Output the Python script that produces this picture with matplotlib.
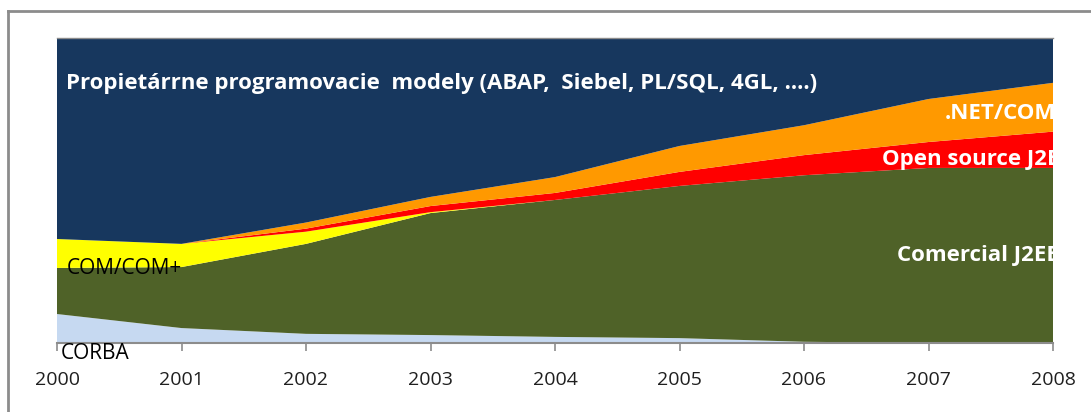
import matplotlib.pyplot as plt
from matplotlib.lines import Line2D

# data (share in %)
years = [2000, 2001, 2002, 2003, 2004, 2005, 2006, 2007, 2008]
corba = [9.5, 4.9, 3.0, 2.6, 2.0, 1.6, 0.4, 0.0, 0.0]
comercial_j2ee = [15.1, 20.0, 29.5, 40.0, 44.9, 49.9, 54.6, 57.4, 57.4]
com_complus = [9.5, 7.6, 4.0, 0.3, 0.0, 0.0, 0.0, 0.0, 0.0]
open_source_j2ee = [0.0, 0.0, 1.0, 2.0, 2.3, 4.6, 6.6, 8.5, 11.9]
dotnet = [0.0, 0.0, 2.0, 3.0, 5.2, 8.5, 9.8, 14.1, 16.0]
proprietary = [100 - sum(v) for v in zip(corba, comercial_j2ee, com_complus, open_source_j2ee, dotnet)]

series = [corba, comercial_j2ee, com_complus, open_source_j2ee, dotnet, proprietary]
colors = ['#c6d9f1', '#4f6228', '#ffff00', '#ff0000', '#ff9900', '#17375e']

W, H = 1091, 412
fig = plt.figure(figsize=(W / 100, H / 100), dpi=100)
ax = fig.add_axes([57 / W, 1 - 343 / H, (1053 - 57) / W, (343 - 38) / H])

ax.stackplot(years, *series, colors=colors, linewidth=0)
ax.set_xlim(2000, 2008)
ax.set_ylim(0, 100)

font = ['Open Sans', 'DejaVu Sans']

ax.set_yticks([])
ax.set_xticks(years)
ax.tick_params(axis='x', direction='out', length=6, width=1.2, color='#8c8c8c',
               pad=14, labelsize=14, labelcolor='#1f1f1f')
for lbl in ax.get_xticklabels():
    lbl.set_family(font)
for s in ['left', 'right']:
    ax.spines[s].set_visible(False)
ax.spines['bottom'].set_color('#8c8c8c')
ax.spines['bottom'].set_linewidth(1.5)
ax.spines['top'].set_color('#8c8c8c')
ax.spines['top'].set_linewidth(1.0)

# area labels
white = dict(color='white', fontsize=16, fontweight='bold', family=font,
             va='center', ha='left', clip_on=True)
ax.text(2000.07, 85.2, 'Propietárrne programovacie  modely (ABAP,  Siebel, PL/SQL, 4GL, ....)', **white)
ax.text(2007.13, 75.4, '.NET/COM', **white)
ax.text(2006.63, 60.0, 'Open source J2EE', **white)
ax.text(2006.75, 28.8, 'Comercial J2EE', **white)
ax.text(2000.08, 24.3, 'COM/COM+', color='black', fontsize=15, family=font,
        va='center', ha='left')
ax.text(2000.03, -3.6, 'CORBA', color='black', fontsize=15, family=font,
        va='center', ha='left', clip_on=False)

# outer chart frame (cut off at right and bottom)
fig.add_artist(Line2D([7.5 / W, 7.5 / W], [0, 1 - 10.5 / H], color='#8c8c8c', lw=2,
                      transform=fig.transFigure))
fig.add_artist(Line2D([7.5 / W, 1], [1 - 10.5 / H, 1 - 10.5 / H], color='#8c8c8c', lw=2,
                      transform=fig.transFigure))

fig.savefig('out.png', dpi=100)
